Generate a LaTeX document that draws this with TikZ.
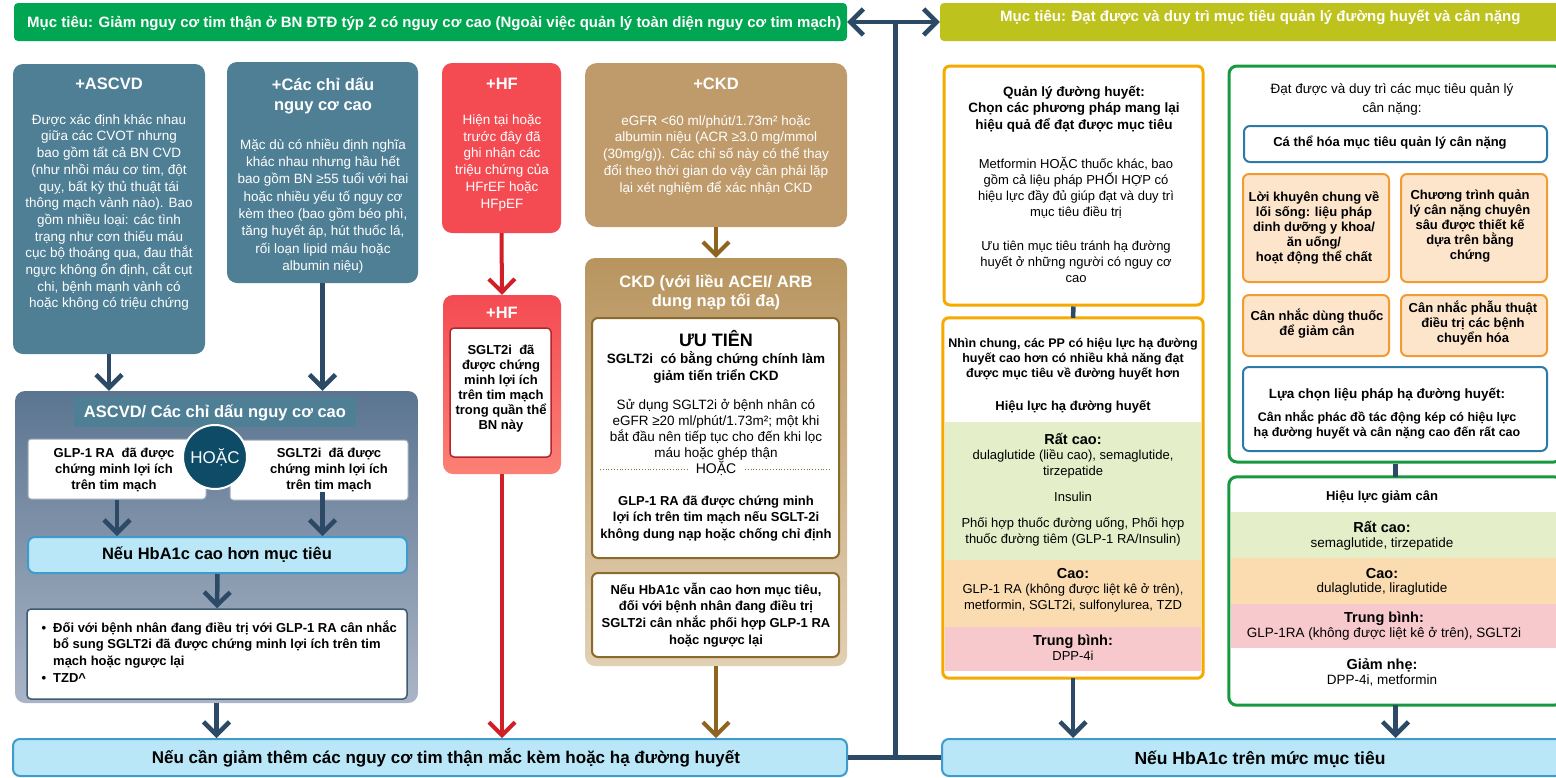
\documentclass[tikz,border=0pt]{standalone}
\usepackage{fontspec}
\setmainfont{Liberation Sans}
\usetikzlibrary{arrows.meta,fit,calc}

\definecolor{navy}{HTML}{2C4A66}
\definecolor{gbanner}{HTML}{00A651}
\definecolor{obanner}{HTML}{BDC21C}
\definecolor{steel}{HTML}{4F7F95}
\definecolor{slatetop}{HTML}{5B7590}
\definecolor{slatebot}{HTML}{AAB4C6}
\definecolor{hoac}{HTML}{0E4B67}
\definecolor{skyfill}{HTML}{B9E7F8}
\definecolor{skyline}{HTML}{3E9BCB}
\definecolor{hfred}{HTML}{F44B53}
\definecolor{hfredlight}{HTML}{FB8075}
\definecolor{hfarrow}{HTML}{D11F27}
\definecolor{hfline}{HTML}{B0262C}
\definecolor{ckdtan}{HTML}{BF9B6C}
\definecolor{ckdtop}{HTML}{B8955F}
\definecolor{ckdbot}{HTML}{E2D0B4}
\definecolor{ckdarrow}{HTML}{8F6420}
\definecolor{ckdline}{HTML}{8B6B2B}
\definecolor{amber}{HTML}{F6AA00}
\definecolor{leaf}{HTML}{17993F}
\definecolor{ocean}{HTML}{2B7AAA}
\definecolor{bandgreen}{HTML}{E4EEC8}
\definecolor{bandorange}{HTML}{FADCB0}
\definecolor{bandpink}{HTML}{F7C9CC}
\definecolor{peach}{HTML}{FDE5CC}
\definecolor{peachline}{HTML}{F39B33}
\definecolor{slateline}{HTML}{3E5A70}
\definecolor{paleline}{HTML}{9AAABB}

% font size with a fixed line pitch
\newcommand\fsz[2]{\fontsize{#1}{#2}\selectfont\lineskiplimit=-50pt\relax}
% fixed first-line height so that a node's first baseline sits at its coordinate
\newcommand\st{\rule{0pt}{20pt}}

\tikzset{
  panel/.style={inner sep=0pt, rounded corners=10pt},
  whitebox/.style={inner sep=0pt, fill=white, draw=paleline, line width=1pt, rounded corners=3pt},
  skybox/.style={inner sep=0pt, fill=skyfill, draw=skyline, line width=2pt, rounded corners=7pt},
  peachbox/.style={inner sep=0pt, fill=peach, draw=peachline, line width=2pt, rounded corners=6pt},
  oceanbox/.style={inner sep=0pt, fill=white, draw=ocean, line width=2pt, rounded corners=6pt},
  txt/.style={anchor=north, inner sep=0pt, align=center, yshift=20pt},
  one/.style={anchor=base, inner sep=0pt},
  ttl/.style={font=\bfseries\fsz{16.5}{20}},
  body/.style={font=\fsz{13.5}{16.7}},
  barb/.tip={Straight Barb[length=13pt,width=26pt]},
  flow/.style={draw=navy, line width=4.5pt, -barb},
  hfflow/.style={draw=hfarrow, line width=4pt, -barb},
  ckdflow/.style={draw=ckdarrow, line width=4pt, -barb},
  link/.style={draw=navy, line width=4.5pt},
}

\begin{document}
\begin{tikzpicture}[x=1pt,y=-1pt]
\useasboundingbox (0,0) rectangle (1556,777);
\fill[white] (0,0) rectangle (1556,777);

% ---------- goal banners ----------
\node[fit={(14,3) (847,41)}, inner sep=0pt, fill=gbanner, rounded corners=4pt] (gban) {};
\node[anchor=base west, inner sep=0pt, text=white, font=\bfseries\fsz{15}{17}] (gbantxt) at (27,27)
  {Mục tiêu: Giảm nguy cơ tim thận ở BN ĐTĐ týp 2 có nguy cơ cao (Ngoài việc quản lý toàn diện nguy cơ tim mạch)};
\node[fit={(940,3) (1562,41)}, inner sep=0pt, fill=obanner, rounded corners=4pt] (oban) {};
\node[anchor=base west, inner sep=0pt, text=white, font=\bfseries\fsz{15}{17}] (obantxt) at (1000,21)
  {Mục tiêu: Đạt được và duy trì mục tiêu quản lý đường huyết và cân nặng};

% ---------- ASCVD ----------
\node[panel, fill=steel, fit={(13,64) (205,354)}] (ascvd) {};
\node[txt, ttl, text=white] (ascvdttl) at (109,89) {\st +ASCVD};
\node[txt, body, text=white] (ascvdtxt) at (109,124) {\st Được xác định khác nhau\\giữa các CVOT nhưng\\bao gồm tất cả BN CVD\\(như nhồi máu cơ tim, đột\\quỵ, bất kỳ thủ thuật tái\\thông mạch vành nào). Bao\\gồm nhiều loại: các tình\\trạng như cơn thiếu máu\\cục bộ thoáng qua, đau thắt\\ngực không ổn định, cắt cụt\\chi, bệnh mạnh vành có\\hoặc không có triệu chứng};

\node[panel, fill=steel, fit={(227,62) (418,283)}] (risk) {};
\node[txt, ttl, text=white] (riskttl) at (323,90) {\st +Các chỉ dấu\\nguy cơ cao};
\node[txt, font=\fsz{13.5}{17.3}, text=white] (risktxt) at (323,149) {\st Mặc dù có nhiều định nghĩa\\khác nhau nhưng hầu hết\\bao gồm BN ≥55 tuổi với hai\\hoặc nhiều yếu tố nguy cơ\\kèm theo (bao gồm béo phì,\\tăng huyết áp, hút thuốc lá,\\rối loạn lipid máu hoặc\\albumin niệu)};

\node[panel, top color=slatetop, bottom color=slatebot, fit={(15,391) (418,703)}] (cont) {};
\node[fit={(74,397) (356,427)}, inner sep=0pt, fill=steel] (contbar) {};
\node[one, ttl, text=white] (contttl) at (215,417) {ASCVD/ Các chỉ dấu nguy cơ cao};

\node[whitebox, fit={(28,439) (206,499)}] (glp) {};
\node[txt, font=\bfseries\fsz{13}{16}] (glptxt) at (114,457) {\st GLP-1 RA\ \ đã được\\chứng minh lợi ích\\trên tim mạch};
\node[whitebox, fit={(230,440) (408,500)}] (sglt) {};
\node[txt, font=\bfseries\fsz{13}{16}] (sglttxt) at (329,457) {\st SGLT2i\ \ đã được\\chứng minh lợi ích\\trên tim mạch};
\node[circle, fill=hoac, draw=white, line width=2pt, minimum size=64pt, inner sep=0pt,
      text=white, font=\fsz{17}{20}] (either) at (215,457) {HOẶC};

\node[skybox, fit={(28,537) (407,573)}] (hba) {};
\node[one, ttl] (hbatxt) at (217,559) {Nếu HbA1c cao hơn mục tiêu};

\node[inner sep=0pt, fill=white, draw=slateline, line width=1.5pt, rounded corners=4pt, fit={(27,609) (407,699)}] (addon) {};
\node[txt, anchor=north west, align=left, font=\bfseries\fsz{13}{16.6}] (addontxt) at (53,632)
  {\st\llap{•\hspace{7pt}}Đối với bệnh nhân đang điều trị với GLP-1 RA cân nhắc\\bổ sung SGLT2i đã được chứng minh lợi ích trên tim\\mạch hoặc ngược lại\\\llap{•\hspace{7pt}}TZD\textasciicircum};

% ---------- bottom outcome boxes ----------
\node[skybox, fit={(13,739) (847,776)}] (bl) {};
\node[one, font=\bfseries\fsz{17}{20}] (bltxt) at (446,763) {Nếu cần giảm thêm các nguy cơ tim thận mắc kèm hoặc hạ đường huyết};
\node[skybox, fit={(942,739) (1562,776)}] (br) {};
\node[one, font=\bfseries\fsz{17.5}{20}] (brtxt) at (1260,764) {Nếu HbA1c trên mức mục tiêu};

% ---------- HF ----------
\node[panel, fill=hfred, fit={(442,63) (561,233)}] (hf) {};
\node[txt, ttl, text=white] (hfttl) at (502,89) {\st +HF};
\node[txt, font=\fsz{13.5}{16.8}, text=white] (hftxt) at (502,124) {\st Hiện tại hoặc\\trước đây đã\\ghi nhận các\\triệu chứng của\\HFrEF hoặc\\HFpEF};
\node[panel, top color=hfred, bottom color=hfredlight, fit={(443,295) (561,474)}] (hfrx) {};
\node[txt, ttl, text=white] (hfrxttl) at (502,318) {\st +HF};
\node[inner sep=0pt, fill=white, draw=hfline, line width=1.5pt, rounded corners=4pt, fit={(450,328) (551,457)}] (hfin) {};
\node[txt, font=\bfseries\fsz{13}{15}] (hfintxt) at (501,354) {\st SGLT2i\ \ đã\\được chứng\\minh lợi ích\\trên tim mạch\\trong quần thể\\BN này};

% ---------- CKD ----------
\node[panel, fill=ckdtan, rounded corners=12pt, fit={(585,63) (847,227)}] (ckd) {};
\node[txt, ttl, text=white] (ckdttl) at (716,89) {\st +CKD};
\node[txt, font=\fsz{13.5}{16.75}, text=white] (ckdtxt) at (716,125) {\st eGFR <60 ml/phút/1.73m² hoặc\\albumin niệu (ACR ≥3.0 mg/mmol\\(30mg/g)). Các chỉ số này có thể thay\\đổi theo thời gian do vậy cần phải lặp\\lại xét nghiệm để xác nhận CKD};

\node[panel, top color=ckdtop, bottom color=ckdbot, fit={(585,258) (847,666)}] (ckdrx) {};
\node[txt, font=\bfseries\fsz{16.5}{19}, text=white] (ckdrxttl) at (716,287) {\st CKD (với liều ACEI/ ARB\\dung nạp tối đa)};
\node[inner sep=0pt, fill=white, draw=ckdline, line width=2pt, rounded corners=6pt, fit={(592,318) (839,558)}] (ckdpri) {};
\node[one, font=\bfseries\fsz{18}{20}] (ckdprittl) at (716,346) {ƯU TIÊN};
\node[txt, font=\bfseries\fsz{13.5}{17}] (ckdprisub) at (716,363) {\st SGLT2i\ \ có bằng chứng chính làm\\giảm tiến triển CKD};
\node[txt, font=\fsz{13.5}{16}] (ckdpritxt) at (716,409) {\st Sử dụng SGLT2i ở bệnh nhân có\\eGFR ≥20 ml/phút/1.73m²; một khi\\bắt đầu nên tiếp tục cho đến khi lọc\\máu hoặc ghép thận};
\node[one, font=\fsz{14}{16}] (ckdor) at (716,473) {HOẶC};
\draw[ckdline, dotted, line width=0.8pt] (600,469) -- (688,469);
\draw[ckdline, dotted, line width=0.8pt] (745,469) -- (830,469);
\node[txt, font=\bfseries\fsz{13}{16.5}] (ckdalt) at (716,505) {\st GLP-1 RA đã được chứng minh\\lợi ích trên tim mạch nếu SGLT-2i\\không dung nạp hoặc chống chỉ định};
\node[inner sep=0pt, fill=white, draw=ckdline, line width=2pt, rounded corners=6pt, fit={(592,573) (839,657)}] (ckdadd) {};
\node[txt, font=\bfseries\fsz{13}{16.7}] (ckdaddtxt) at (716,594) {\st Nếu HbA1c vẫn cao hơn mục tiêu,\\đối với bệnh nhân đang điều trị\\SGLT2i cân nhắc phối hợp GLP-1 RA\\hoặc ngược lại};

% ---------- glycaemic management ----------
\node[inner sep=0pt, fill=white, draw=amber, line width=3pt, rounded corners=6pt, fit={(944,66) (1203,305)}] (glyc) {};
\node[txt, font=\bfseries\fsz{13.5}{16.5}] (glycttl) at (1074,96) {\st Quản lý đường huyết:\\Chọn các phương pháp mang lại\\hiệu quả để đạt được mục tiêu};
\node[txt, font=\fsz{13}{16}] (glyctxt) at (1076,168) {\st Metformin HOẶC thuốc khác, bao\\gồm cả liệu pháp PHỐI HỢP có\\hiệu lực đầy đủ giúp đạt và duy trì\\mục tiêu điều trị};
\node[txt, font=\fsz{13}{16}] (glycrisk) at (1076,250) {\st Ưu tiên mục tiêu tránh hạ đường\\huyết ở những người có nguy cơ\\cao};

\node[inner sep=0pt, fill=white, rounded corners=6pt, fit={(943,318) (1203,678)}] (glypot) {};
\fill[bandgreen] (945,422) rectangle (1201,560);
\fill[bandorange] (945,560) rectangle (1201,627);
\fill[bandpink] (945,627) rectangle (1201,671);
\draw[amber, line width=3pt, rounded corners=6pt] (glypot.north west) rectangle (glypot.south east);
\node[txt, font=\bfseries\fsz{12.5}{15}] (glypotintro) at (1073,347) {\st Nhìn chung, các PP có hiệu lực hạ đường\\huyết cao hơn có nhiều khả năng đạt\\được mục tiêu về đường huyết hơn};
\node[one, font=\bfseries\fsz{13}{15}] (glypothead) at (1073,410) {Hiệu lực hạ đường huyết};
\node[one, font=\bfseries\fsz{14.5}{16}] (gvh) at (1073,444) {Rất cao:};
\node[txt, font=\fsz{13}{16.5}] (gvhtxt) at (1073,459) {\st dulaglutide (liều cao), semaglutide,\\tirzepatide};
\node[one, font=\fsz{13}{16}] (gins) at (1073,501) {Insulin};
\node[txt, font=\fsz{13}{16}] (gcomb) at (1073,527) {\st Phối hợp thuốc đường uống, Phối hợp\\thuốc đường tiêm (GLP-1 RA/Insulin)};
\node[one, font=\bfseries\fsz{14.5}{16}] (ghi) at (1073,578) {Cao:};
\node[txt, font=\fsz{13}{16}] (ghitxt) at (1073,593) {\st GLP-1 RA (không được liệt kê ở trên),\\metformin, SGLT2i, sulfonylurea, TZD};
\node[one, font=\bfseries\fsz{14.5}{16}] (gmid) at (1073,645) {Trung bình:};
\node[one, font=\fsz{13}{16}] (gmidtxt) at (1073,660) {DPP-4i};

% ---------- weight management ----------
\node[inner sep=0pt, fill=white, draw=leaf, line width=3pt, rounded corners=8pt, fit={(1229,66) (1562,462)}] (wt) {};
\node[txt, font=\fsz{13.5}{19}] (wttxt) at (1392,93) {\st Đạt được và duy trì các mục tiêu quản lý\\cân nặng:};
\node[oceanbox, fit={(1244,126) (1547,162)}] (indiv) {};
\node[one, font=\bfseries\fsz{13}{16}] (indivtxt) at (1390,146) {Cá thể hóa mục tiêu quản lý cân nặng};
\node[peachbox, fit={(1243,174) (1389,282)}] (life) {};
\node[txt, font=\bfseries\fsz{13}{15}] (lifetxt) at (1314,201) {\st Lời khuyên chung về\\lối sống: liệu pháp\\dinh dưỡng y khoa/\\ăn uống/\\hoạt động thể chất};
\node[peachbox, fit={(1401,174) (1547,282)}] (prog) {};
\node[txt, font=\bfseries\fsz{13}{15}] (progtxt) at (1470,199) {\st Chương trình quản\\lý cân nặng chuyên\\sâu được thiết kế\\dựa trên bằng\\chứng};
\node[peachbox, fit={(1243,295) (1389,356)}] (drug) {};
\node[txt, font=\bfseries\fsz{13}{15}] (drugtxt) at (1317,320) {\st Cân nhắc dùng thuốc\\để giảm cân};
\node[peachbox, fit={(1401,295) (1547,356)}] (surg) {};
\node[txt, font=\bfseries\fsz{13}{15}] (surgtxt) at (1473,312) {\st Cân nhắc phẫu thuật\\điều trị các bệnh\\chuyển hóa};
\node[oceanbox, fit={(1243,367) (1547,451)}] (dual) {};
\node[one, font=\bfseries\fsz{13.5}{16}] (dualttl) at (1387,398) {Lựa chọn liệu pháp hạ đường huyết:};
\node[txt, font=\bfseries\fsz{12.5}{15}] (dualtxt) at (1387,421) {\st Cân nhắc phác đồ tác động kép có hiệu lực\\hạ đường huyết và cân nặng cao đến rất cao};

\node[inner sep=0pt, fill=white, rounded corners=8pt, fit={(1229,477) (1562,705)}] (weff) {};
\fill[bandgreen] (1231,512) rectangle (1560,558);
\fill[bandorange] (1231,558) rectangle (1560,604);
\fill[bandpink] (1231,604) rectangle (1560,648);
\draw[leaf, line width=3pt, rounded corners=8pt] (weff.north west) rectangle (weff.south east);
\node[one, font=\bfseries\fsz{13}{16}] (wefftitle) at (1382,500) {Hiệu lực giảm cân};
\node[one, font=\bfseries\fsz{14.5}{16}] (wvh) at (1382,532) {Rất cao:};
\node[one, font=\fsz{13.5}{16}] (wvhtxt) at (1382,547) {semaglutide, tirzepatide};
\node[one, font=\bfseries\fsz{14.5}{16}] (whi) at (1382,578) {Cao:};
\node[one, font=\fsz{13.5}{16}] (whitxt) at (1382,592) {dulaglutide, liraglutide};
\node[one, font=\bfseries\fsz{14.5}{16}] (wmid) at (1384,622) {Trung bình:};
\node[one, font=\fsz{13.5}{16}] (wmidtxt) at (1384,637) {GLP-1RA (không được liệt kê ở trên), SGLT2i};
\node[one, font=\bfseries\fsz{14.5}{16}] (wlo) at (1382,669) {Giảm nhẹ:};
\node[one, font=\fsz{13.5}{16}] (wlotxt) at (1382,684) {DPP-4i, metformin};

% ---------- connectors ----------
\draw[flow] (ascvd.south) -- (ascvd.south |- cont.north);
\draw[flow] (risk.south) -- (risk.south |- cont.north);
\draw[flow] (glp.south) -- (glp.south |- hba.north);
\draw[flow] (sglttxt.south -| risk.south) -- (risk.south |- hba.north);
\draw[flow] (hba.south) -- (addon.north);
\draw[flow] (cont.south) -- (cont.south |- bl.north);

\draw[hfflow] (hf.south) -- (hfrx.north);
\draw[hfflow] (hfrx.south) -- (hfrx.south |- bl.north);
\draw[ckdflow] (ckd.south) -- (ckdrx.north);
\draw[ckdflow] (ckdrx.south) -- (ckdrx.south |- bl.north);

\draw[link] (glyc.south) -- (glypot.north);
\draw[link] (wt.south) -- (weff.north);
\draw[flow] (glypot.south) -- (glypot.south |- br.north);
\draw[flow] (weff.south) -- (weff.south |- br.north);

\coordinate (hub) at ($(gban.east)!0.5!(oban.west)+(2,0)$);
\coordinate (foot) at ($(bl.east)!0.5!(br.west)$);
\draw[link, barb-barb] (gban.east) -- (oban.west);
\draw[link] (hub) -- (hub |- foot);
\draw[link] (bl.east) -- (br.west);
\end{tikzpicture}
\end{document}
